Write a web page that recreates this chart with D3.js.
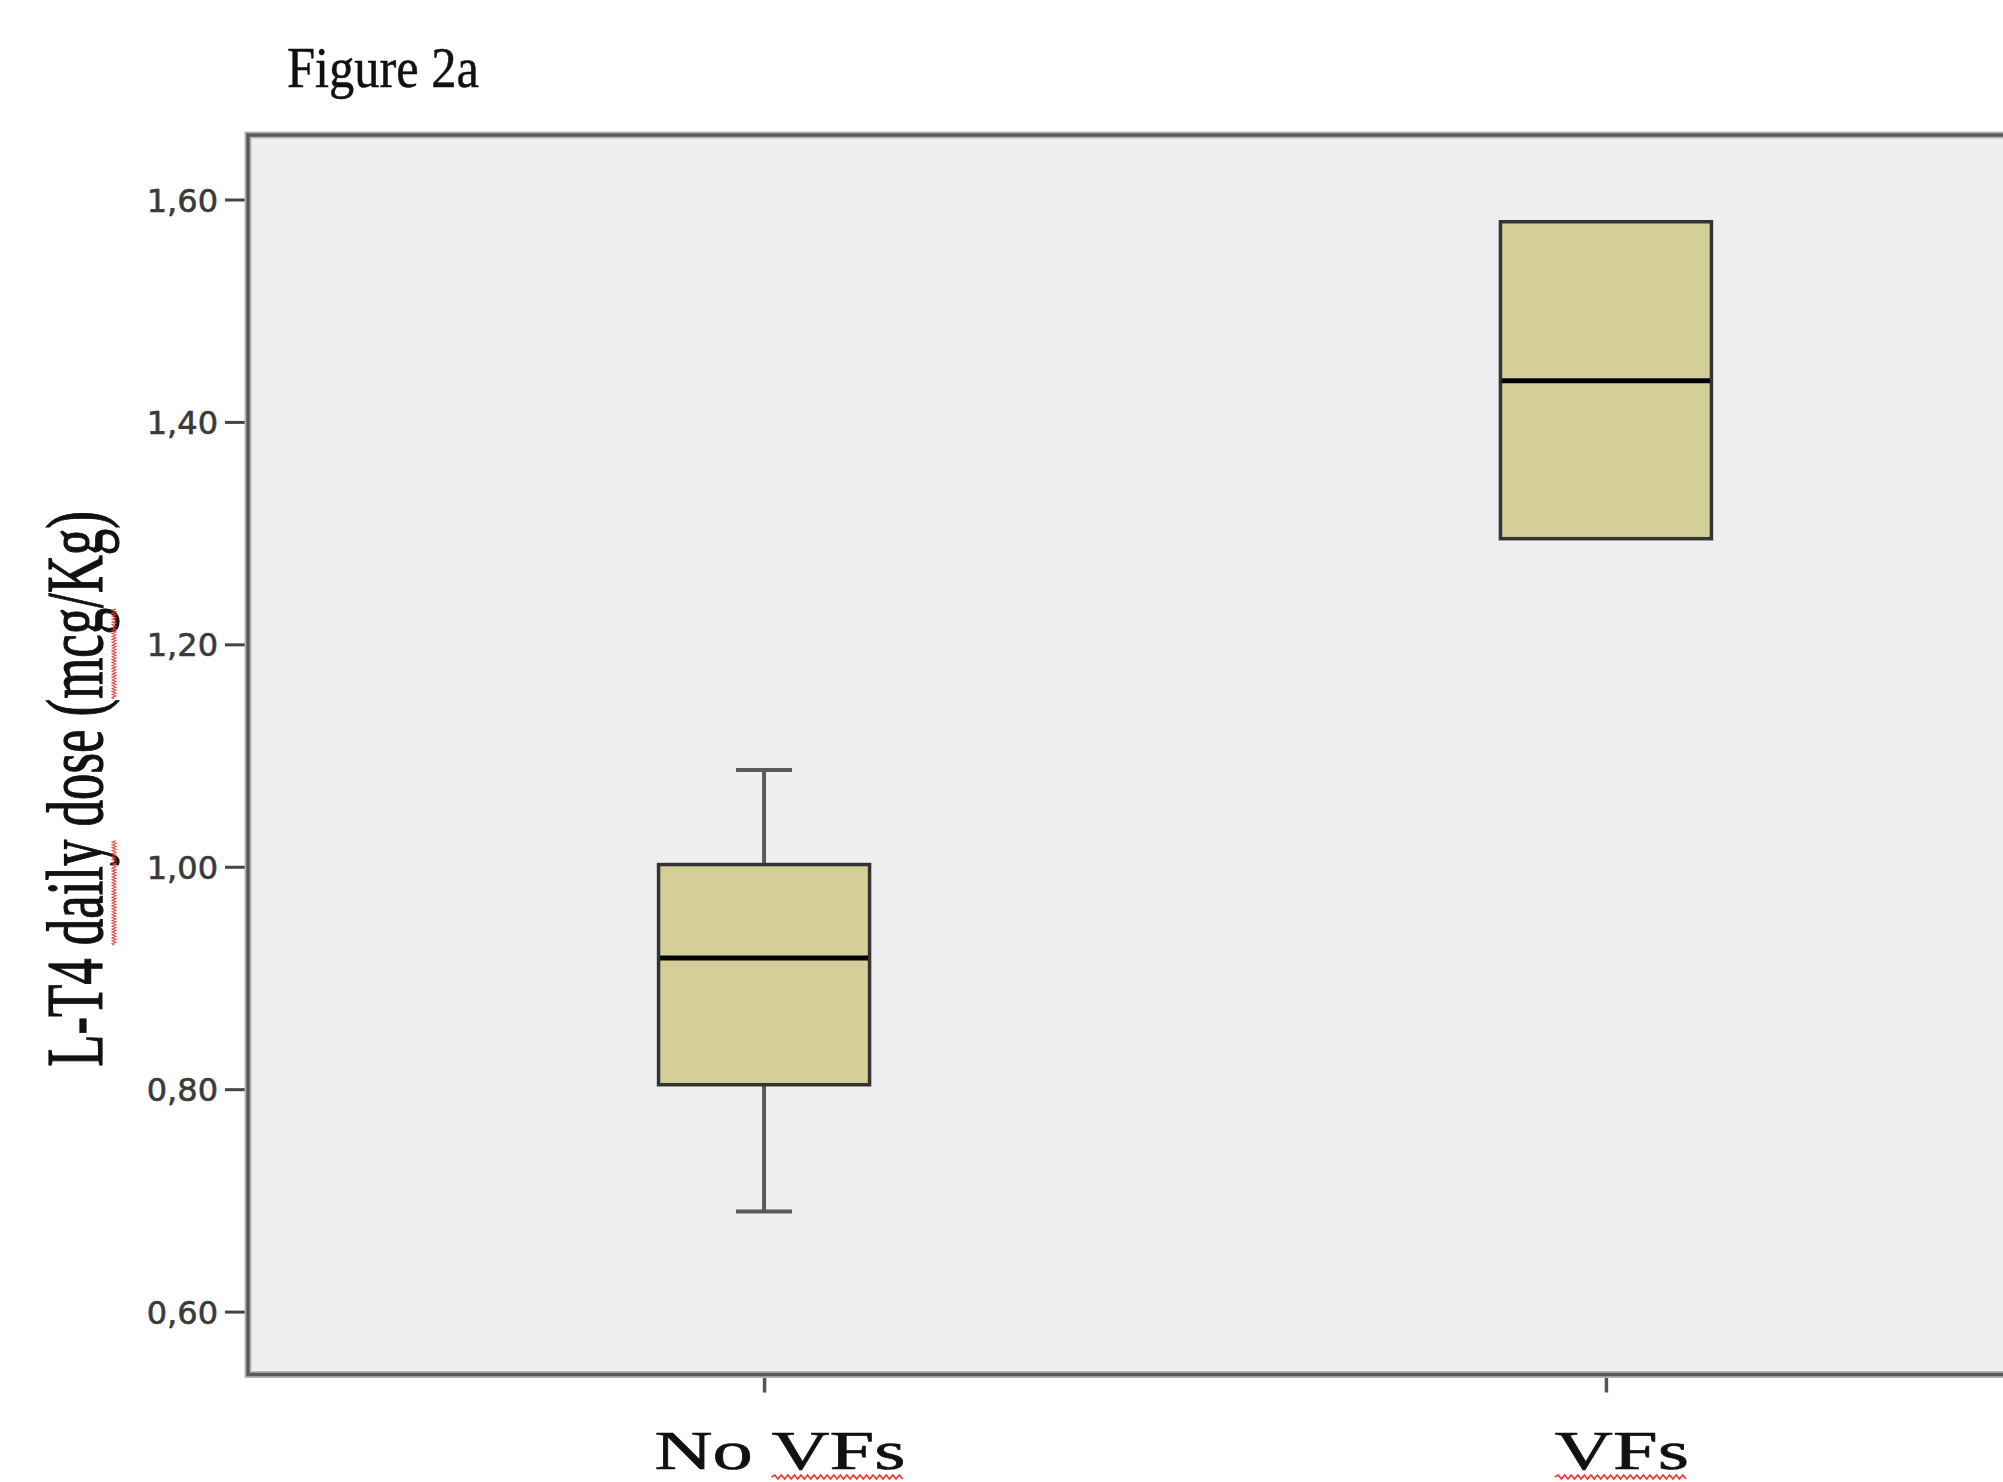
<!DOCTYPE html>
<html>
<head>
<meta charset="utf-8">
<script src="https://cdn.jsdelivr.net/npm/d3@7"></script>
<style>
  html, body { margin: 0; padding: 0; background: #ffffff; }
  svg { display: block; }
</style>
</head>
<body>
<svg id="chart" width="2003" height="1482"></svg>
<script>
// Boxplot summary per group: L-T4 daily dose (mcg/Kg)
const categories = ["No VFs", "VFs"];
const whiskerLow = [0.69, 1.295];
const q1Values = [0.804, 1.295];
const medianValues = [0.918, 1.437];
const q3Values = [1.002, 1.58];
const whiskerHigh = [1.087, 1.58];
const yTicks = [0.6, 0.8, 1.0, 1.2, 1.4, 1.6];

const titleText = "Figure 2a";
const yLabelText = "L-T4 daily dose (mcg/Kg)";

const svg = d3.select("#chart");

// Plot frame (the right side runs past the page edge)
const frame = { left: 248, top: 135, right: 2122, bottom: 1374.5 };

const y = d3.scaleLinear().domain([0.6, 1.6]).range([1311.6, 199.5]);
const x = d3.scalePoint().domain(categories).range([frame.left, frame.right]).padding(0.613);

const boxW = 211;
const capW = 56;

const groups = categories.map((c, i) => ({
  cat: c,
  lo: whiskerLow[i], q1: q1Values[i], med: medianValues[i], q3: q3Values[i], hi: whiskerHigh[i]
}));

// plot background
svg.append("rect")
  .attr("x", frame.left).attr("y", frame.top)
  .attr("width", frame.right - frame.left).attr("height", frame.bottom - frame.top)
  .attr("fill", "#efefef");

// y axis ticks and labels
const yAxis = d3.axisLeft(y)
  .tickValues(yTicks)
  .tickSize(23)
  .tickPadding(7)
  .tickFormat(d => d3.format(".2f")(d).replace(".", ","));

const yAxisG = svg.append("g")
  .attr("transform", `translate(${frame.left},0)`)
  .call(yAxis);
yAxisG.select(".domain").remove();
yAxisG.selectAll(".tick line").attr("stroke", "#444").attr("stroke-width", 3);
yAxisG.selectAll(".tick text")
  .attr("fill", "#3a3a3a")
  .attr("stroke", "#3a3a3a")
  .attr("stroke-width", 0.6)
  .style("font-family", "'DejaVu Sans', sans-serif")
  .style("font-size", "32px")
  .attr("dy", "0.36em");

// x axis ticks
const xAxis = d3.axisBottom(x).tickSize(18).tickFormat("");
const xAxisG = svg.append("g")
  .attr("transform", `translate(0,${frame.bottom})`)
  .call(xAxis);
xAxisG.select(".domain").remove();
xAxisG.selectAll(".tick line").attr("stroke", "#555").attr("stroke-width", 3.5);

// frame border: soft halo plus darker core line
const framePath = `M${frame.right},${frame.top}H${frame.left}V${frame.bottom}H${frame.right}`;
svg.append("path").attr("d", framePath).attr("fill", "none")
  .attr("stroke", "#b5b5b5").attr("stroke-width", 7);
svg.append("path").attr("d", framePath).attr("fill", "none")
  .attr("stroke", "#5a5a5a").attr("stroke-width", 3.5);

// boxes
const box = svg.append("g").selectAll("g.box").data(groups).join("g").attr("class", "box");

// whiskers
box.append("line")
  .attr("x1", d => x(d.cat)).attr("x2", d => x(d.cat))
  .attr("y1", d => y(d.hi)).attr("y2", d => y(d.q3))
  .attr("stroke", "#5a5a5a").attr("stroke-width", 4);
box.append("line")
  .attr("x1", d => x(d.cat)).attr("x2", d => x(d.cat))
  .attr("y1", d => y(d.q1)).attr("y2", d => y(d.lo))
  .attr("stroke", "#5a5a5a").attr("stroke-width", 4);
box.filter(d => d.hi > d.q3).append("line")
  .attr("x1", d => x(d.cat) - capW / 2).attr("x2", d => x(d.cat) + capW / 2)
  .attr("y1", d => y(d.hi)).attr("y2", d => y(d.hi))
  .attr("stroke", "#5a5a5a").attr("stroke-width", 4);
box.filter(d => d.lo < d.q1).append("line")
  .attr("x1", d => x(d.cat) - capW / 2).attr("x2", d => x(d.cat) + capW / 2)
  .attr("y1", d => y(d.lo)).attr("y2", d => y(d.lo))
  .attr("stroke", "#5a5a5a").attr("stroke-width", 4);

// interquartile box
box.append("rect")
  .attr("x", d => x(d.cat) - boxW / 2)
  .attr("y", d => y(d.q3))
  .attr("width", boxW)
  .attr("height", d => y(d.q1) - y(d.q3))
  .attr("fill", "#d4cf98")
  .attr("stroke", "#333")
  .attr("stroke-width", 3.5);

// median
box.append("line")
  .attr("x1", d => x(d.cat) - boxW / 2 + 1.5).attr("x2", d => x(d.cat) + boxW / 2 - 1.5)
  .attr("y1", d => y(d.med)).attr("y2", d => y(d.med))
  .attr("stroke", "#000").attr("stroke-width", 5);

// red wavy spell-check style underline under a span of a text element
function squiggle(parent, textNode, start, count, offsetY) {
  const x0 = textNode.getStartPositionOfChar(start).x;
  const x1 = textNode.getEndPositionOfChar(start + count - 1).x;
  const baseY = textNode.getStartPositionOfChar(start).y + offsetY;
  const step = 2.2;
  let d = `M${x0},${baseY}`;
  let up = true;
  for (let px = x0 + step; px <= x1; px += step) {
    d += `L${px},${baseY + (up ? -2 : 2)}`;
    up = !up;
  }
  parent.append("path").attr("d", d).attr("fill", "none")
    .attr("stroke", "#ee3333").attr("stroke-width", 1.3);
}

const serif = "'Liberation Serif', 'Times New Roman', serif";

// title
const titleG = svg.append("g").attr("transform", "translate(287,87) scale(0.87,1)");
titleG.append("text")
  .attr("x", 0).attr("y", 0)
  .style("font-family", serif)
  .style("font-size", "58px")
  .attr("fill", "#111")
  .attr("stroke", "#111").attr("stroke-width", 0.5)
  .text(titleText);

// y axis title (rotated, condensed)
const yLabG = svg.append("g").attr("transform", "translate(102,789) rotate(-90) scale(0.66,1)");
const yLab = yLabG.append("text")
  .attr("x", 0).attr("y", 0)
  .attr("text-anchor", "middle")
  .style("font-family", serif)
  .style("font-size", "80px")
  .attr("fill", "#111")
  .attr("stroke", "#111").attr("stroke-width", 1.2)
  .text(yLabelText);
squiggle(yLabG, yLab.node(), 5, 5, 12);   // "daily"
squiggle(yLabG, yLab.node(), 17, 3, 12);  // "mcg"

// category labels (wide)
categories.forEach(c => {
  const g = svg.append("g").attr("transform", `translate(${x(c) + 16},1469) scale(1.49,1)`);
  const t = g.append("text")
    .attr("x", 0).attr("y", 0)
    .attr("text-anchor", "middle")
    .style("font-family", serif)
    .style("font-size", "54px")
    .attr("fill", "#111")
    .attr("stroke", "#111").attr("stroke-width", 0.6)
    .text(c);
  const idx = c.indexOf("VFs");
  squiggle(g, t.node(), idx, 3, 8);
});
</script>
</body>
</html>
